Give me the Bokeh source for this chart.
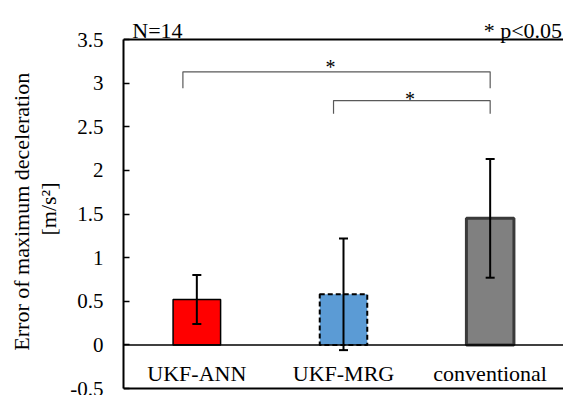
from bokeh.plotting import figure
from bokeh.models import (ColumnDataSource, Range1d, FixedTicker, Span, Whisker, TeeHead)
from bokeh.core.properties import value
from bokeh.embed import file_html
from bokeh.resources import INLINE

# ---- data ----
categories = ["UKF-ANN", "UKF-MRG", "conventional"]
means = [0.52, 0.58, 1.45]
errors = [0.28, 0.64, 0.68]
fill_colors = ["#FF0000", "#5B9BD5", "#808080"]
y_ticks = [-0.5, 0, 0.5, 1, 1.5, 2, 2.5, 3, 3.5]
y_tick_labels = ["-0.5", "0", "0.5", "1", "1.5", "2", "2.5", "3", "3.5"]
# significance brackets: start x, end x, top y, leg bottom y
br_x0 = [0.405, 1.432]
br_x1 = [2.5, 2.5]
br_top = [3.13, 2.80]
br_leg = [2.94, 2.65]
star_x = [1.412, 1.953]
star_y = [3.19, 2.82]
star_text = ["*", "*"]
note_left = "N=14"
note_right = "* p<0.05"

FONT = "Liberation Serif"
NB = "\u00a0" * 4

xs = [i + 0.5 for i in range(len(categories))]

p = figure(width=563, height=395, output_backend="svg", toolbar_location=None,
           x_range=Range1d(0, 3.0), y_range=Range1d(-0.580, 3.947),
           min_border_left=123, min_border_top=0, min_border_right=0, min_border_bottom=0)
p.title.visible = False
p.outline_line_color = None
p.grid.visible = False
p.xaxis.visible = False

# left axis
ya = p.yaxis[0]
ya.bounds = (-0.5, 3.5)
ya.ticker = FixedTicker(ticks=y_ticks)
ya.major_label_overrides = {t: s for t, s in zip(y_ticks, y_tick_labels)}
ya.major_tick_in = 6
ya.major_tick_out = 0
ya.minor_tick_line_color = None
ya.major_tick_line_width = 1.5
ya.axis_line_width = 2
ya.axis_line_color = "black"
ya.major_label_text_font = FONT
ya.major_label_text_font_size = "21px"
ya.major_label_text_color = "black"
ya.major_label_standoff = 20
ya.axis_label = "Error of maximum  deceleration" + NB + "\n[m/s\u00b2]" + NB
ya.axis_label_text_font = FONT
ya.axis_label_text_font_size = "22px"
ya.axis_label_text_font_style = "normal"
ya.axis_label_text_color = "black"
ya.axis_label_text_line_height = 1.1
ya.axis_label_standoff = 6

# frame lines top and bottom
p.add_layout(Span(location=3.5, dimension="width", line_color="black", line_width=2))
p.add_layout(Span(location=-0.5, dimension="width", line_color="black", line_width=2))
# zero line
p.add_layout(Span(location=0, dimension="width", line_color="black", line_width=1.5))

# bars
src = ColumnDataSource(dict(
    x=xs,
    upper=[m + e for m, e in zip(means, errors)],
    lower=[m - e for m, e in zip(means, errors)],
))
bw = 0.324
p.vbar(x=[xs[0]], top=[means[0]], bottom=0, width=bw, fill_color=fill_colors[0],
       line_color="black", line_width=1.5)
p.vbar(x=[xs[1]], top=[means[1]], bottom=0, width=bw, fill_color=fill_colors[1],
       line_color="black", line_width=2, line_dash="5 3")
p.vbar(x=[xs[2]], top=[means[2]], bottom=0, width=bw, fill_color=fill_colors[2],
       line_color="#3a3a3a", line_width=3)

p.add_layout(Whisker(base="x", upper="upper", lower="lower", source=src, level="annotation",
                     line_width=2, line_color="black",
                     upper_head=TeeHead(size=9, line_width=2, line_color="black"),
                     lower_head=TeeHead(size=9, line_width=2, line_color="black")))

# category labels inside the frame
p.text(x=xs, y=[-0.33] * 3, text=categories, text_align="center", text_baseline="middle",
       text_font=value(FONT), text_font_size="22px", text_color="black")

# brackets
bx = [[a, a, b, b] for a, b in zip(br_x0, br_x1)]
by = [[l, t, t, l] for t, l in zip(br_top, br_leg)]
p.multi_line(xs=bx, ys=by, line_color="#595959", line_width=1.2)
p.text(x=star_x, y=star_y, text=star_text, text_align="center", text_baseline="alphabetic",
       text_font=value(FONT), text_font_size="20px", text_color="black")

# notes above the top frame line
p.text(x=[0.06], y=[3.603], text=[note_left], text_align="left", text_baseline="alphabetic",
       text_font=value(FONT), text_font_size="22px", text_color="black")
p.text(x=[2.99], y=[3.603], text=[note_right], text_align="right", text_baseline="alphabetic",
       text_font=value(FONT), text_font_size="22px", text_color="black")

open("out.html", "w").write(file_html(p, INLINE))
